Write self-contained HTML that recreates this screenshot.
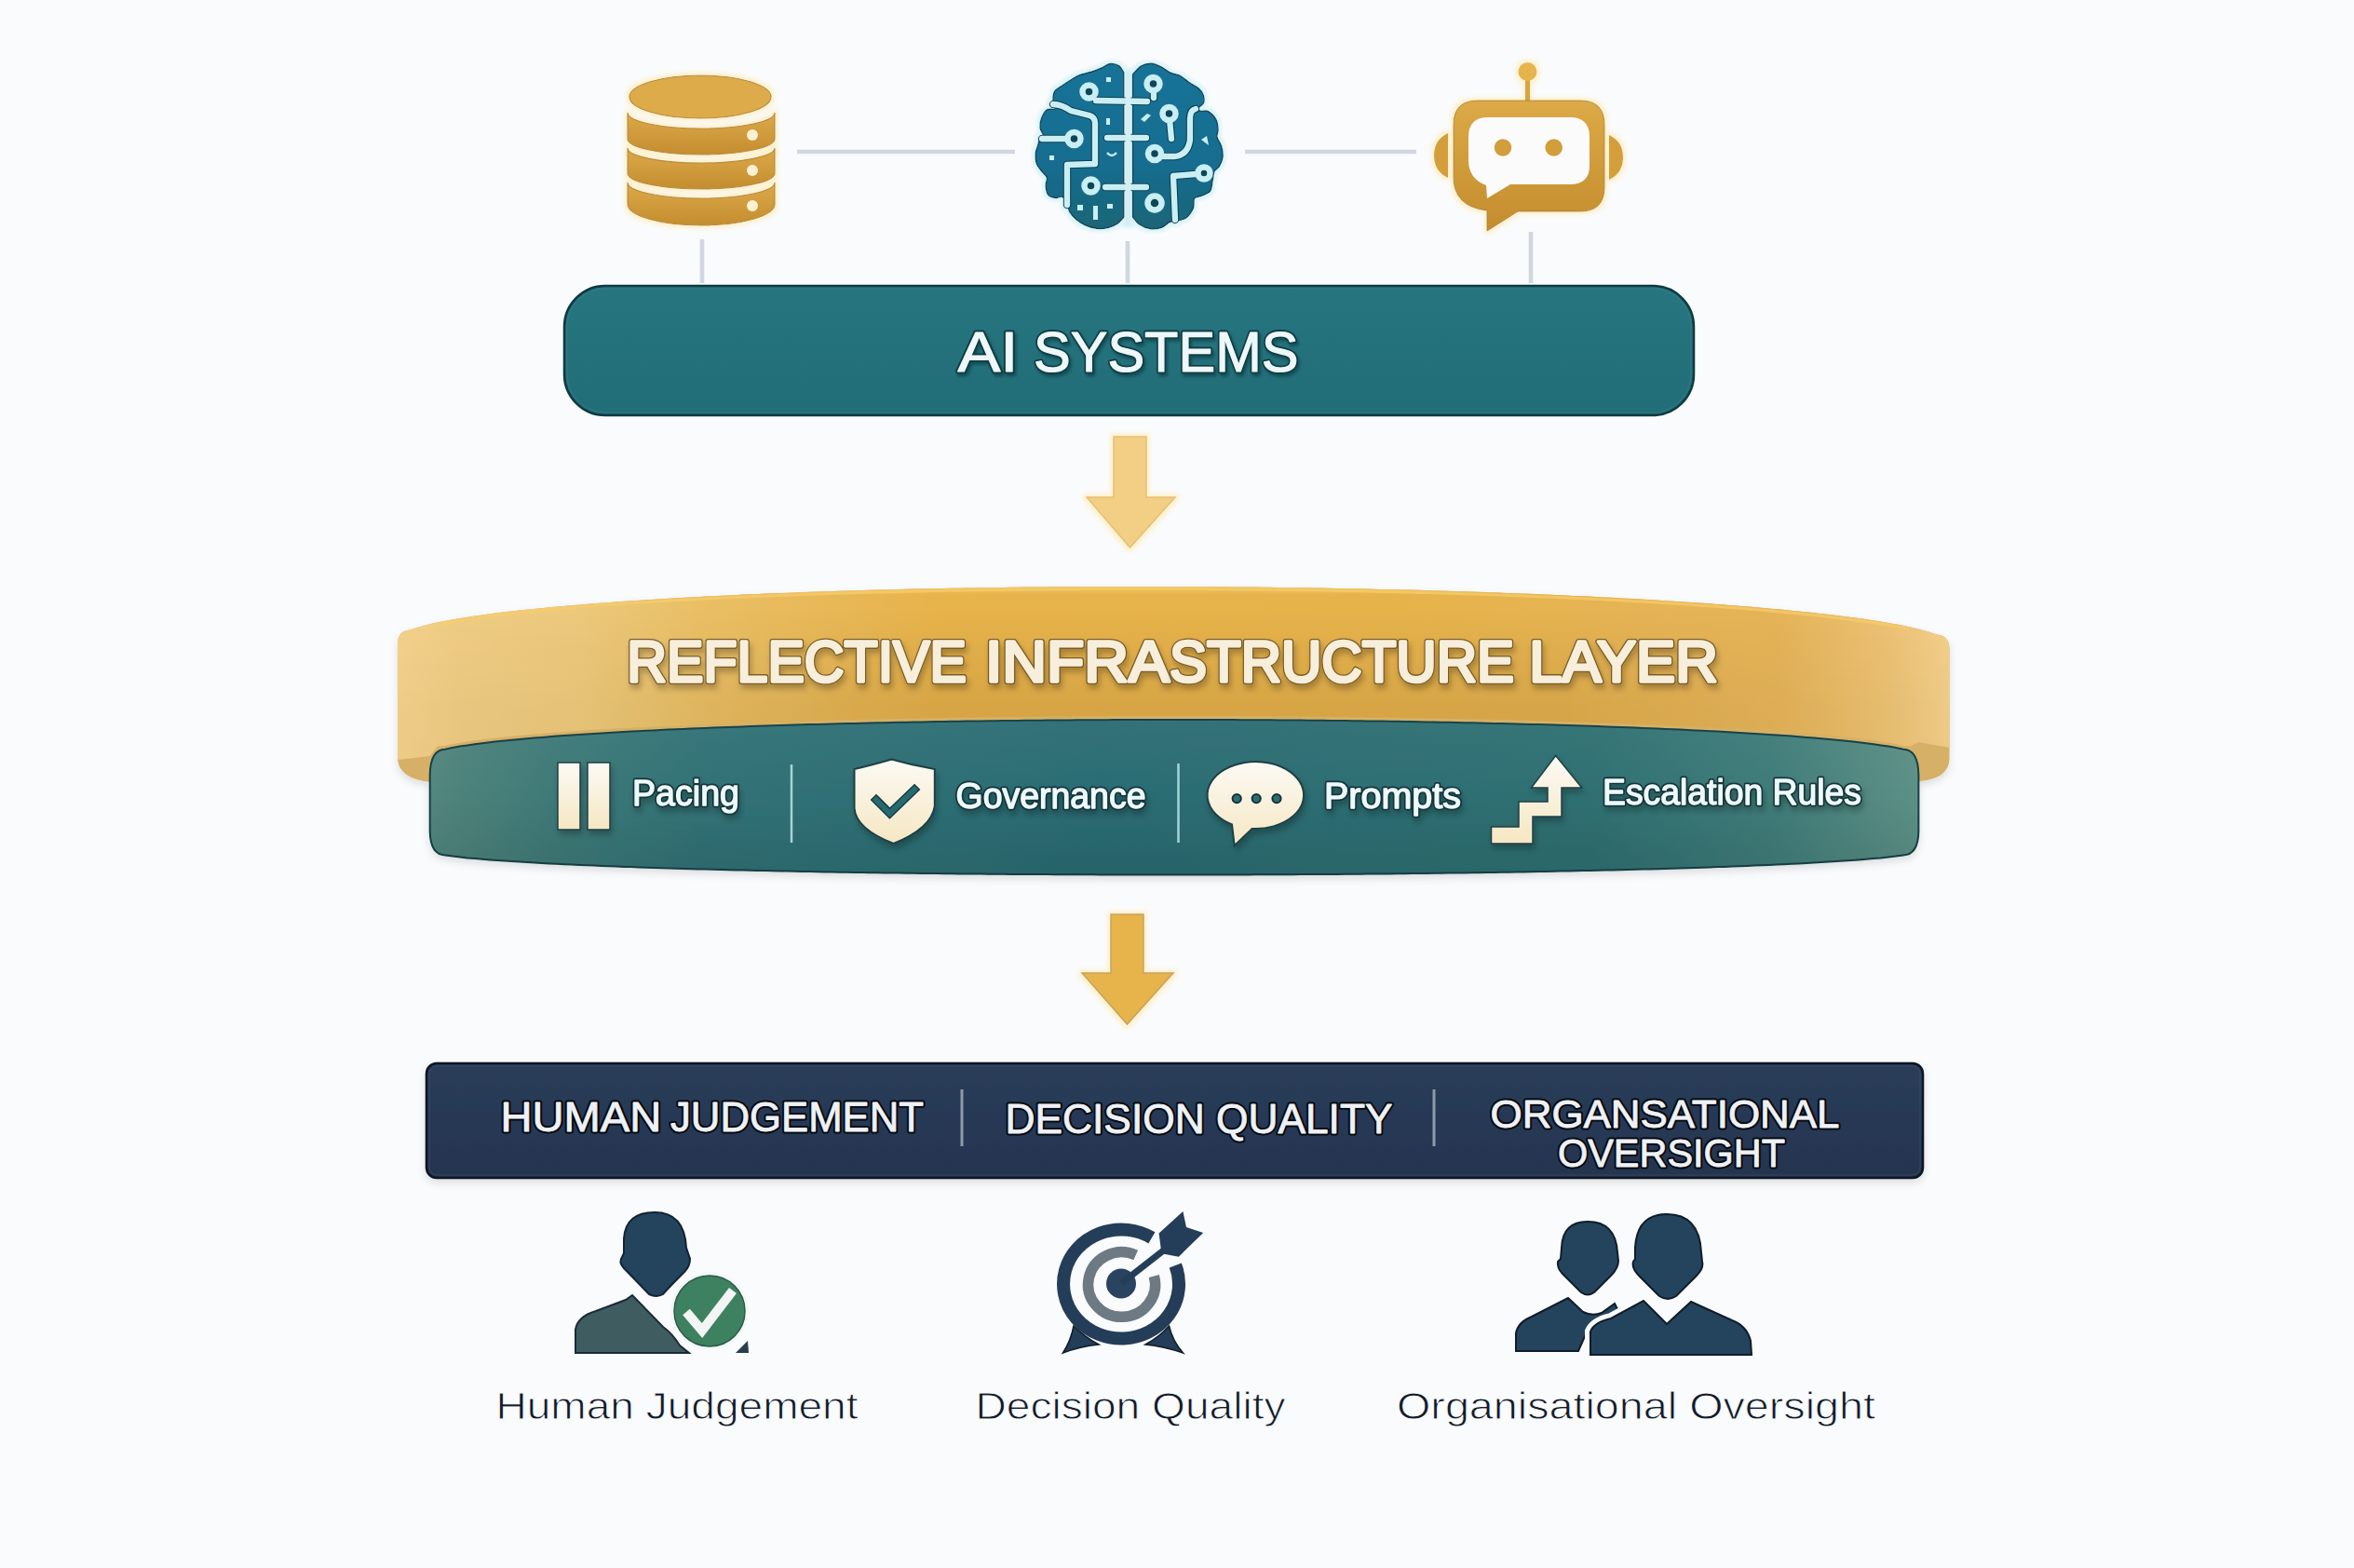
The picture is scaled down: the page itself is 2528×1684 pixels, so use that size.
<!DOCTYPE html>
<html><head><meta charset="utf-8">
<style>
html,body{margin:0;padding:0;background:#fafbfc;}
body{width:2528px;height:1684px;overflow:hidden;position:relative;font-family:"Liberation Sans",sans-serif;}
svg{position:absolute;left:0;top:0;}
</style></head><body>
<svg width="2528" height="1684" viewBox="0 0 2528 1684">
<defs>
  <linearGradient id="dbband" x1="0" y1="0" x2="0" y2="1">
    <stop offset="0" stop-color="#dcaa4a"/><stop offset="1" stop-color="#c48d2f"/>
  </linearGradient>
  <linearGradient id="braing" x1="0" y1="0" x2="0" y2="1">
    <stop offset="0" stop-color="#167398"/><stop offset="0.6" stop-color="#156d90"/><stop offset="1" stop-color="#1b6577"/>
  </linearGradient>
  <linearGradient id="aibox" x1="0" y1="0" x2="0" y2="1">
    <stop offset="0" stop-color="#26757f"/><stop offset="1" stop-color="#216d78"/>
  </linearGradient>
  <linearGradient id="navy" x1="0" y1="0" x2="0" y2="1">
    <stop offset="0" stop-color="#2a3d59"/><stop offset="1" stop-color="#24344f"/>
  </linearGradient>
  <linearGradient id="robot" x1="0" y1="0" x2="0" y2="1">
    <stop offset="0" stop-color="#dcaa47"/><stop offset="1" stop-color="#c48c2d"/>
  </linearGradient>
  <linearGradient id="goldface" gradientUnits="userSpaceOnUse" x1="427" y1="0" x2="2094" y2="0">
    <stop offset="0" stop-color="#f4d28c"/><stop offset="0.04" stop-color="#efcc84"/><stop offset="0.12" stop-color="#ebc87a"/>
    <stop offset="0.2" stop-color="#e9be64"/><stop offset="0.35" stop-color="#e7b34b"/><stop offset="0.65" stop-color="#e6b34c"/>
    <stop offset="0.89" stop-color="#e5b459"/><stop offset="0.96" stop-color="#ecc274"/><stop offset="1" stop-color="#f3d08b"/>
  </linearGradient>
  <linearGradient id="hmaskg" gradientUnits="userSpaceOnUse" x1="427" y1="0" x2="2094" y2="0">
    <stop offset="0" stop-color="#555"/><stop offset="0.12" stop-color="#666"/><stop offset="0.3" stop-color="#fff"/>
    <stop offset="0.75" stop-color="#fff"/><stop offset="0.89" stop-color="#777"/><stop offset="1" stop-color="#555"/>
  </linearGradient>
  <mask id="shademask" maskUnits="userSpaceOnUse" x="400" y="600" width="1720" height="260"><rect x="400" y="600" width="1720" height="260" fill="url(#hmaskg)"/></mask>
  <linearGradient id="goldshade" x1="0" y1="0" x2="0" y2="1">
    <stop offset="0" stop-color="#fff1b0" stop-opacity="0.3"/><stop offset="0.05" stop-color="#fff1b0" stop-opacity="0"/>
    <stop offset="0.13" stop-color="#3a1c00" stop-opacity="0"/><stop offset="0.7" stop-color="#3a1c00" stop-opacity="0.09"/>
    <stop offset="1" stop-color="#3a1c00" stop-opacity="0.1"/>
  </linearGradient>
  <linearGradient id="tealband" gradientUnits="userSpaceOnUse" x1="461" y1="0" x2="2061" y2="0">
    <stop offset="0" stop-color="#52877f"/><stop offset="0.023" stop-color="#4c827a"/><stop offset="0.08" stop-color="#3f7a78"/>
    <stop offset="0.18" stop-color="#317276"/><stop offset="0.45" stop-color="#2a6c73"/><stop offset="0.78" stop-color="#2f7072"/>
    <stop offset="0.9" stop-color="#3f7c79"/><stop offset="0.98" stop-color="#578c83"/><stop offset="1" stop-color="#5c9187"/>
  </linearGradient>
  <linearGradient id="tealshade" x1="0" y1="0" x2="0" y2="1">
    <stop offset="0" stop-color="#fff" stop-opacity="0.04"/><stop offset="0.1" stop-color="#fff" stop-opacity="0.03"/>
    <stop offset="0.5" stop-color="#fff" stop-opacity="0"/><stop offset="0.5" stop-color="#000" stop-opacity="0"/>
    <stop offset="0.87" stop-color="#000" stop-opacity="0.07"/><stop offset="1" stop-color="#000" stop-opacity="0.08"/>
  </linearGradient>
  <linearGradient id="cream" x1="0" y1="0" x2="0" y2="1">
    <stop offset="0" stop-color="#fbfaf4"/><stop offset="1" stop-color="#f6e7c3"/>
  </linearGradient>
  <filter id="glow" x="-20%" y="-20%" width="140%" height="140%">
    <feMorphology in="SourceAlpha" operator="dilate" radius="3" result="d"/>
    <feGaussianBlur in="d" stdDeviation="2" result="b"/>
    <feFlood flood-color="#fdf1cf"/><feComposite in2="b" operator="in" result="g"/>
    <feMerge><feMergeNode in="g"/><feMergeNode in="SourceGraphic"/></feMerge>
  </filter>
  <filter id="glowc" x="-20%" y="-20%" width="140%" height="140%">
    <feMorphology in="SourceAlpha" operator="dilate" radius="2.5" result="d"/>
    <feGaussianBlur in="d" stdDeviation="1.5" result="b"/>
    <feFlood flood-color="#dcf4f8"/><feComposite in2="b" operator="in" result="g"/>
    <feMerge><feMergeNode in="g"/><feMergeNode in="SourceGraphic"/></feMerge>
  </filter>
  <filter id="tshadow" x="-5%" y="-20%" width="110%" height="150%">
    <feGaussianBlur in="SourceAlpha" stdDeviation="3"/>
    <feOffset dx="2" dy="5" result="o"/>
    <feFlood flood-color="#000" flood-opacity="0.25"/><feComposite in2="o" operator="in" result="s"/>
    <feMerge><feMergeNode in="s"/><feMergeNode in="SourceGraphic"/></feMerge>
  </filter>
  <filter id="tshadow2" x="-5%" y="-20%" width="110%" height="150%">
    <feGaussianBlur in="SourceAlpha" stdDeviation="1.5"/>
    <feOffset dx="2" dy="3" result="o"/>
    <feFlood flood-color="#062a30" flood-opacity="0.45"/><feComposite in2="o" operator="in" result="s"/>
    <feMerge><feMergeNode in="s"/><feMergeNode in="SourceGraphic"/></feMerge>
  </filter>
  <filter id="soft" x="-10%" y="-10%" width="120%" height="130%">
    <feGaussianBlur in="SourceAlpha" stdDeviation="4"/>
    <feOffset dx="0" dy="4" result="o"/>
    <feFlood flood-color="#000" flood-opacity="0.12"/><feComposite in2="o" operator="in" result="s"/>
    <feMerge><feMergeNode in="s"/><feMergeNode in="SourceGraphic"/></feMerge>
  </filter>
</defs>

<!-- connectors -->
<g stroke="#d0d7e0" stroke-width="4.6" stroke-linecap="butt">
  <line x1="856" y1="163" x2="1090" y2="163"/>
  <line x1="1337" y1="163" x2="1521" y2="163"/>
  <line x1="754" y1="257" x2="754" y2="304"/>
  <line x1="1211" y1="259" x2="1211" y2="304"/>
  <line x1="1644" y1="249" x2="1644" y2="304"/>
</g>

<!-- database -->
<g filter="url(#glow)">
  <path d="M674,196 A79,17 0 0 0 832,196 L832,219 A79,23 0 0 1 674,219 Z" fill="url(#dbband)" stroke="#b98a35" stroke-width="1.2"/>
  <path d="M674,159 A79,16 0 0 0 832,159 L832,186 A79,17 0 0 1 674,186 Z" fill="url(#dbband)" stroke="#b98a35" stroke-width="1.2"/>
  <path d="M674,121 A79,17 0 0 0 832,121 L832,149 A79,17 0 0 1 674,149 Z" fill="url(#dbband)" stroke="#b98a35" stroke-width="1.2"/>
  <ellipse cx="752" cy="104" rx="76" ry="23" fill="#ddab4a" stroke="#b98a35" stroke-width="1.2"/>
  <g fill="#fcf1d2"><circle cx="808" cy="145" r="6"/><circle cx="808" cy="183" r="6"/><circle cx="808" cy="221" r="6"/></g>
</g>

<!-- brain -->
<g filter="url(#glowc)">
  <path d="M1206.8,78.0 C1206.0,76.8 1204.3,72.5 1201.9,70.9 C1199.5,69.3 1195.4,68.2 1192.2,68.6 C1189.0,69.0 1185.7,71.9 1182.5,73.3 C1179.3,74.7 1176.6,75.8 1172.8,77.0 C1169.0,78.2 1163.1,79.2 1159.5,80.6 C1155.9,82.0 1154.0,83.6 1151.0,85.4 C1148.0,87.2 1144.3,89.5 1141.3,91.5 C1138.3,93.5 1134.6,95.4 1132.9,97.6 C1131.2,99.8 1131.2,102.6 1131.0,104.8 C1130.8,107.0 1131.3,109.0 1131.6,111.0 C1131.9,113.0 1134.3,115.8 1133.0,117.0 C1131.7,118.2 1126.5,116.2 1124.0,118.0 C1121.5,119.8 1119.5,124.5 1118.3,127.8 C1117.1,131.1 1116.8,134.6 1117.1,137.5 C1117.4,140.4 1120.3,142.9 1120.2,145.0 C1120.1,147.1 1117.5,148.0 1116.5,150.0 C1115.5,152.0 1115.2,154.5 1114.5,156.9 C1113.8,159.3 1112.5,161.0 1112.3,164.2 C1112.1,167.4 1112.3,172.9 1113.5,176.3 C1114.7,179.7 1117.7,182.4 1119.5,184.8 C1121.3,187.2 1123.8,188.4 1124.4,190.8 C1125.0,193.2 1123.0,196.3 1123.2,199.3 C1123.4,202.3 1123.8,206.8 1125.6,209.0 C1127.4,211.2 1131.6,212.3 1134.0,212.6 C1136.4,212.9 1138.1,210.2 1140.1,211.0 C1142.1,211.8 1144.8,214.8 1146.2,217.5 C1147.6,220.2 1147.0,224.2 1148.6,227.2 C1150.2,230.2 1153.1,233.3 1155.9,235.7 C1158.7,238.1 1162.0,240.1 1165.6,241.7 C1169.2,243.3 1173.7,244.8 1177.7,245.3 C1181.7,245.8 1186.2,245.3 1189.8,244.5 C1193.4,243.7 1196.7,242.4 1199.5,240.5 C1202.3,238.6 1205.6,234.4 1206.8,233.2 L1206.8,160 Z" fill="url(#braing)" stroke="#0f4a5e" stroke-width="1.5"/>
  <path d="M1216.5,80.0 C1218.0,78.5 1222.3,72.9 1225.6,70.9 C1228.9,68.9 1232.9,68.0 1236.5,68.2 C1240.1,68.4 1244.0,70.4 1247.4,72.1 C1250.8,73.8 1253.7,76.6 1257.1,78.2 C1260.5,79.8 1264.6,80.0 1268.0,81.8 C1271.4,83.6 1274.5,86.9 1277.7,89.1 C1280.9,91.3 1285.0,92.9 1287.4,95.1 C1289.8,97.3 1291.5,99.8 1292.3,102.4 C1293.1,105.1 1293.3,108.7 1292.3,111.0 C1291.2,113.3 1286.4,115.1 1286.0,116.5 C1285.6,117.9 1288.2,118.9 1290.0,119.4 C1291.8,119.9 1294.5,118.0 1297.1,119.4 C1299.7,120.8 1303.8,124.7 1305.6,127.9 C1307.4,131.1 1307.8,135.6 1308.0,138.8 C1308.2,142.0 1306.4,144.3 1307.0,147.3 C1307.6,150.3 1310.6,153.4 1311.6,157.0 C1312.6,160.6 1313.4,165.4 1313.0,169.0 C1312.6,172.6 1310.7,176.3 1309.2,178.8 C1307.7,181.3 1305.2,181.4 1304.0,184.0 C1302.8,186.6 1302.8,190.9 1302.0,194.5 C1301.2,198.1 1301.5,202.8 1299.5,205.4 C1297.5,208.0 1292.8,209.0 1290.0,210.3 C1287.2,211.6 1284.0,210.8 1282.6,213.0 C1281.1,215.2 1282.9,220.0 1281.3,223.6 C1279.7,227.2 1276.0,232.3 1273.0,234.5 C1270.0,236.7 1265.8,236.3 1263.0,237.0 C1260.2,237.7 1258.6,237.3 1256.0,238.5 C1253.4,239.7 1250.9,243.0 1247.4,244.2 C1244.0,245.4 1239.3,246.2 1235.3,245.6 C1231.3,245.0 1226.3,242.7 1223.2,240.6 C1220.1,238.5 1217.6,234.3 1216.5,233.0 L1216.5,160 Z" fill="url(#braing)" stroke="#0f4a5e" stroke-width="1.5"/>
  <g fill="none" stroke-linecap="round" stroke-linejoin="round" stroke="#0e4252" stroke-width="8.5">
<path d="M1177,108 L1232,109"/>
<path d="M1189,148 L1231,148"/>
<path d="M1187,201 L1231,201"/>
<path d="M1131,112 Q1140,112 1150,119 L1170,124 Q1176,126 1176,132 L1176,176 L1146,177 L1146,220"/>
<path d="M1119,149 L1145,149"/>
<path d="M1239,99 L1239,105"/>
<path d="M1256,128 L1258,149"/>
<path d="M1284,117 Q1278,118 1278,128 L1278,150 Q1276,166 1262,168 L1249,168"/>
<path d="M1284,187 L1260,189 L1262,236"/>
  </g>
  <g fill="none" stroke-linecap="round" stroke-linejoin="round" stroke="#c9eef4" stroke-width="6.3">
<path d="M1177,108 L1232,109"/>
<path d="M1189,148 L1231,148"/>
<path d="M1187,201 L1231,201"/>
<path d="M1131,112 Q1140,112 1150,119 L1170,124 Q1176,126 1176,132 L1176,176 L1146,177 L1146,220"/>
<path d="M1119,149 L1145,149"/>
<path d="M1239,99 L1239,105"/>
<path d="M1256,128 L1258,149"/>
<path d="M1284,117 Q1278,118 1278,128 L1278,150 Q1276,166 1262,168 L1249,168"/>
<path d="M1284,187 L1260,189 L1262,236"/>
  </g>
  <g fill="#0f4656" stroke="#c9eef4" stroke-width="6.5">
    <circle cx="1169.5" cy="98.5" r="7"/>
    <circle cx="1153.5" cy="149" r="7"/>
    <circle cx="1171.5" cy="199.5" r="7"/>
    <circle cx="1238.5" cy="90" r="7"/>
    <circle cx="1255.5" cy="122" r="7"/>
    <circle cx="1240" cy="165" r="7"/>
    <circle cx="1293" cy="186" r="6.5"/>
    <circle cx="1240" cy="218" r="7.5"/>
  </g>
  <g fill="#c9eef4">
    <rect x="1188" y="83" width="5" height="5"/>
    <rect x="1127" y="167" width="5" height="5"/>
    <rect x="1174" y="221" width="5" height="15"/>
    <rect x="1189" y="219" width="6" height="5"/>
    <rect x="1157" y="220" width="6" height="6"/>
    <path d="M1225,128 L1232,122 L1236,124 L1229,131Z"/>
    <path d="M1290,150 L1296,146 L1298,156Z"/>
    <path d="M1189,164 Q1194,170 1199,164" fill="none" stroke="#c9eef4" stroke-width="2.5"/>
    <rect x="1188" y="127" width="4" height="7"/>
  </g>
  <rect x="1208.5" y="76" width="6" height="166" fill="#d3eff4"/>
</g>

<!-- robot -->
<g filter="url(#glow)">
  <rect x="1638" y="83" width="5" height="27" fill="#d7a441"/>
  <circle cx="1640.5" cy="77" r="10" fill="#e6b44b"/>
  <path d="M1555,143 Q1540,150 1540,167 Q1540,184 1555,191 Z" fill="#d49e3a"/>
  <path d="M1728,145 Q1743,152 1743,169 Q1743,186 1728,193 Z" fill="#d49e3a"/>
  <path d="M1587,108 L1697,108 Q1723,108 1723,134 L1723,201 Q1723,227 1697,227 L1630,227 L1597,248 L1597,226 Q1561,222 1561,190 L1561,134 Q1561,108 1587,108 Z" fill="url(#robot)" stroke="#b48432" stroke-width="1"/>
  <path d="M1598,126 L1686,126 Q1707,126 1707,147 L1707,178 Q1707,198 1686,198 L1622,198 L1597,213 L1596,199 Q1577,192 1577,172 L1577,147 Q1577,126 1598,126 Z" fill="#fbfbfc"/>
  <circle cx="1614" cy="158.5" r="9.3" fill="#d29d3a"/>
  <circle cx="1668.7" cy="158.5" r="9.3" fill="#d29d3a"/>
</g>

<!-- AI systems box -->
<rect x="606" y="307" width="1213" height="139" rx="44" fill="url(#aibox)" stroke="#0f3a41" stroke-width="2.5"/>
<rect x="609" y="310" width="1207" height="133" rx="41" fill="none" stroke="#3d8088" stroke-width="1" opacity="0.6"/>
<g filter="url(#tshadow2)"><text x="1028.5" y="399" font-family="Liberation Sans" font-weight="normal" font-size="62" textLength="65" lengthAdjust="spacingAndGlyphs" fill="#113c43" stroke="#113c43" stroke-width="4.80" stroke-linejoin="round">AI</text><text x="1028.5" y="399" font-family="Liberation Sans" font-weight="normal" font-size="62" textLength="65" lengthAdjust="spacingAndGlyphs" fill="#eef8fa" stroke="#eef8fa" stroke-width="1.20" stroke-linejoin="round">AI</text></g><g filter="url(#tshadow2)"><text x="1110" y="399" font-family="Liberation Sans" font-weight="normal" font-size="62" textLength="284.5" lengthAdjust="spacingAndGlyphs" fill="#113c43" stroke="#113c43" stroke-width="4.80" stroke-linejoin="round">SYSTEMS</text><text x="1110" y="399" font-family="Liberation Sans" font-weight="normal" font-size="62" textLength="284.5" lengthAdjust="spacingAndGlyphs" fill="#eef8fa" stroke="#eef8fa" stroke-width="1.20" stroke-linejoin="round">SYSTEMS</text></g>

<!-- arrow 1 -->
<path d="M1196,469 L1231,469 L1231,534 L1262,534 L1213.5,588 L1167,534 L1196,534 Z" fill="#f2cf84" stroke="#e6c070" stroke-width="1.5" filter="url(#glow)"/>

<!-- ring -->
<g filter="url(#soft)">
<path d="M427.0,700 L427.0,690 Q428.0,677.6 440.0,676.6 L440.0,676.6 L448.0,673.9 L455.9,671.7 L463.9,669.7 L471.8,668.0 L479.8,666.5 L487.8,665.0 L495.7,663.7 L503.7,662.4 L511.7,661.3 L519.6,660.2 L527.6,659.1 L535.5,658.1 L543.5,657.1 L551.5,656.2 L559.4,655.3 L567.4,654.5 L575.3,653.7 L583.3,652.9 L591.3,652.1 L599.2,651.4 L607.2,650.7 L615.1,650.0 L623.1,649.4 L631.1,648.7 L639.0,648.1 L647.0,647.5 L655.0,646.9 L662.9,646.3 L670.9,645.8 L678.8,645.2 L686.8,644.7 L694.8,644.2 L702.7,643.7 L710.7,643.2 L718.6,642.7 L726.6,642.3 L734.6,641.8 L742.5,641.4 L750.5,641.0 L758.4,640.6 L766.4,640.2 L774.4,639.8 L782.3,639.4 L790.3,639.0 L798.3,638.6 L806.2,638.3 L814.2,638.0 L822.1,637.6 L830.1,637.3 L838.1,637.0 L846.0,636.7 L854.0,636.4 L861.9,636.1 L869.9,635.8 L877.9,635.5 L885.8,635.3 L893.8,635.0 L901.7,634.7 L909.7,634.5 L917.7,634.3 L925.6,634.0 L933.6,633.8 L941.6,633.6 L949.5,633.4 L957.5,633.2 L965.4,633.0 L973.4,632.8 L981.4,632.6 L989.3,632.4 L997.3,632.3 L1005.2,632.1 L1013.2,631.9 L1021.2,631.8 L1029.1,631.7 L1037.1,631.5 L1045.0,631.4 L1053.0,631.3 L1061.0,631.1 L1068.9,631.0 L1076.9,630.9 L1084.9,630.8 L1092.8,630.7 L1100.8,630.6 L1108.7,630.5 L1116.7,630.5 L1124.7,630.4 L1132.6,630.3 L1140.6,630.3 L1148.5,630.2 L1156.5,630.2 L1164.5,630.1 L1172.4,630.1 L1180.4,630.0 L1188.3,630.0 L1196.3,630.0 L1204.3,630.0 L1212.2,630.0 L1220.2,629.9 L1228.2,629.9 L1236.1,630.0 L1244.1,630.0 L1252.0,630.0 L1260.0,630.0 L1268.0,630.0 L1275.9,630.1 L1283.9,630.1 L1291.8,630.1 L1299.8,630.2 L1307.8,630.2 L1315.7,630.3 L1323.7,630.4 L1331.7,630.4 L1339.6,630.5 L1347.6,630.6 L1355.5,630.7 L1363.5,630.8 L1371.5,630.9 L1379.4,631.0 L1387.4,631.1 L1395.3,631.2 L1403.3,631.3 L1411.3,631.4 L1419.2,631.6 L1427.2,631.7 L1435.1,631.9 L1443.1,632.0 L1451.1,632.2 L1459.0,632.3 L1467.0,632.5 L1475.0,632.7 L1482.9,632.9 L1490.9,633.0 L1498.8,633.2 L1506.8,633.4 L1514.8,633.6 L1522.7,633.8 L1530.7,634.1 L1538.6,634.3 L1546.6,634.5 L1554.6,634.8 L1562.5,635.0 L1570.5,635.2 L1578.4,635.5 L1586.4,635.8 L1594.4,636.0 L1602.3,636.3 L1610.3,636.6 L1618.3,636.9 L1626.2,637.2 L1634.2,637.5 L1642.1,637.8 L1650.1,638.1 L1658.1,638.5 L1666.0,638.8 L1674.0,639.2 L1681.9,639.5 L1689.9,639.9 L1697.9,640.2 L1705.8,640.6 L1713.8,641.0 L1721.7,641.4 L1729.7,641.8 L1737.7,642.2 L1745.6,642.7 L1753.6,643.1 L1761.6,643.6 L1769.5,644.0 L1777.5,644.5 L1785.4,645.0 L1793.4,645.5 L1801.4,646.0 L1809.3,646.5 L1817.3,647.0 L1825.2,647.6 L1833.2,648.1 L1841.2,648.7 L1849.1,649.3 L1857.1,649.9 L1865.0,650.5 L1873.0,651.2 L1881.0,651.8 L1888.9,652.5 L1896.9,653.2 L1904.9,653.9 L1912.8,654.6 L1920.8,655.4 L1928.7,656.2 L1936.7,657.0 L1944.7,657.8 L1952.6,658.7 L1960.6,659.5 L1968.5,660.5 L1976.5,661.4 L1984.5,662.4 L1992.4,663.5 L2000.4,664.6 L2008.3,665.8 L2016.3,667.0 L2024.3,668.3 L2032.2,669.7 L2040.2,671.1 L2048.2,672.7 L2056.1,674.5 L2064.1,676.5 L2072.0,678.8 L2080.0,681.5 Q2092.5,682.5 2093.5,695 L2093.5,815 Q2093.0,836 2062,839 L462,840 Q428.0,836 427.0,815 Z" fill="#d5b066"/>
<path d="M427.0,700 L427.0,690 Q428.0,677.6 440.0,676.6 L440.0,676.6 L448.0,673.9 L455.9,671.7 L463.9,669.7 L471.8,668.0 L479.8,666.5 L487.8,665.0 L495.7,663.7 L503.7,662.4 L511.7,661.3 L519.6,660.2 L527.6,659.1 L535.5,658.1 L543.5,657.1 L551.5,656.2 L559.4,655.3 L567.4,654.5 L575.3,653.7 L583.3,652.9 L591.3,652.1 L599.2,651.4 L607.2,650.7 L615.1,650.0 L623.1,649.4 L631.1,648.7 L639.0,648.1 L647.0,647.5 L655.0,646.9 L662.9,646.3 L670.9,645.8 L678.8,645.2 L686.8,644.7 L694.8,644.2 L702.7,643.7 L710.7,643.2 L718.6,642.7 L726.6,642.3 L734.6,641.8 L742.5,641.4 L750.5,641.0 L758.4,640.6 L766.4,640.2 L774.4,639.8 L782.3,639.4 L790.3,639.0 L798.3,638.6 L806.2,638.3 L814.2,638.0 L822.1,637.6 L830.1,637.3 L838.1,637.0 L846.0,636.7 L854.0,636.4 L861.9,636.1 L869.9,635.8 L877.9,635.5 L885.8,635.3 L893.8,635.0 L901.7,634.7 L909.7,634.5 L917.7,634.3 L925.6,634.0 L933.6,633.8 L941.6,633.6 L949.5,633.4 L957.5,633.2 L965.4,633.0 L973.4,632.8 L981.4,632.6 L989.3,632.4 L997.3,632.3 L1005.2,632.1 L1013.2,631.9 L1021.2,631.8 L1029.1,631.7 L1037.1,631.5 L1045.0,631.4 L1053.0,631.3 L1061.0,631.1 L1068.9,631.0 L1076.9,630.9 L1084.9,630.8 L1092.8,630.7 L1100.8,630.6 L1108.7,630.5 L1116.7,630.5 L1124.7,630.4 L1132.6,630.3 L1140.6,630.3 L1148.5,630.2 L1156.5,630.2 L1164.5,630.1 L1172.4,630.1 L1180.4,630.0 L1188.3,630.0 L1196.3,630.0 L1204.3,630.0 L1212.2,630.0 L1220.2,629.9 L1228.2,629.9 L1236.1,630.0 L1244.1,630.0 L1252.0,630.0 L1260.0,630.0 L1268.0,630.0 L1275.9,630.1 L1283.9,630.1 L1291.8,630.1 L1299.8,630.2 L1307.8,630.2 L1315.7,630.3 L1323.7,630.4 L1331.7,630.4 L1339.6,630.5 L1347.6,630.6 L1355.5,630.7 L1363.5,630.8 L1371.5,630.9 L1379.4,631.0 L1387.4,631.1 L1395.3,631.2 L1403.3,631.3 L1411.3,631.4 L1419.2,631.6 L1427.2,631.7 L1435.1,631.9 L1443.1,632.0 L1451.1,632.2 L1459.0,632.3 L1467.0,632.5 L1475.0,632.7 L1482.9,632.9 L1490.9,633.0 L1498.8,633.2 L1506.8,633.4 L1514.8,633.6 L1522.7,633.8 L1530.7,634.1 L1538.6,634.3 L1546.6,634.5 L1554.6,634.8 L1562.5,635.0 L1570.5,635.2 L1578.4,635.5 L1586.4,635.8 L1594.4,636.0 L1602.3,636.3 L1610.3,636.6 L1618.3,636.9 L1626.2,637.2 L1634.2,637.5 L1642.1,637.8 L1650.1,638.1 L1658.1,638.5 L1666.0,638.8 L1674.0,639.2 L1681.9,639.5 L1689.9,639.9 L1697.9,640.2 L1705.8,640.6 L1713.8,641.0 L1721.7,641.4 L1729.7,641.8 L1737.7,642.2 L1745.6,642.7 L1753.6,643.1 L1761.6,643.6 L1769.5,644.0 L1777.5,644.5 L1785.4,645.0 L1793.4,645.5 L1801.4,646.0 L1809.3,646.5 L1817.3,647.0 L1825.2,647.6 L1833.2,648.1 L1841.2,648.7 L1849.1,649.3 L1857.1,649.9 L1865.0,650.5 L1873.0,651.2 L1881.0,651.8 L1888.9,652.5 L1896.9,653.2 L1904.9,653.9 L1912.8,654.6 L1920.8,655.4 L1928.7,656.2 L1936.7,657.0 L1944.7,657.8 L1952.6,658.7 L1960.6,659.5 L1968.5,660.5 L1976.5,661.4 L1984.5,662.4 L1992.4,663.5 L2000.4,664.6 L2008.3,665.8 L2016.3,667.0 L2024.3,668.3 L2032.2,669.7 L2040.2,671.1 L2048.2,672.7 L2056.1,674.5 L2064.1,676.5 L2072.0,678.8 L2080.0,681.5 Q2092.5,682.5 2093.5,695 L2093.5,803 L2060.4,797 L2052,801.3 L2046.0,801.3 L2038.0,799.5 L2030.1,798.0 L2022.1,796.7 L2014.1,795.5 L2006.2,794.4 L1998.2,793.5 L1990.2,792.5 L1982.2,791.7 L1974.3,790.9 L1966.3,790.1 L1958.3,789.4 L1950.4,788.7 L1942.4,788.0 L1934.4,787.4 L1926.5,786.8 L1918.5,786.2 L1910.5,785.6 L1902.5,785.1 L1894.6,784.6 L1886.6,784.1 L1878.6,783.6 L1870.7,783.1 L1862.7,782.6 L1854.7,782.2 L1846.8,781.8 L1838.8,781.3 L1830.8,780.9 L1822.9,780.5 L1814.9,780.1 L1806.9,779.8 L1798.9,779.4 L1791.0,779.0 L1783.0,778.7 L1775.0,778.4 L1767.1,778.0 L1759.1,777.7 L1751.1,777.4 L1743.2,777.1 L1735.2,776.8 L1727.2,776.5 L1719.2,776.2 L1711.3,775.9 L1703.3,775.7 L1695.3,775.4 L1687.4,775.2 L1679.4,774.9 L1671.4,774.7 L1663.5,774.4 L1655.5,774.2 L1647.5,774.0 L1639.6,773.8 L1631.6,773.6 L1623.6,773.3 L1615.6,773.1 L1607.7,773.0 L1599.7,772.8 L1591.7,772.6 L1583.8,772.4 L1575.8,772.2 L1567.8,772.1 L1559.9,771.9 L1551.9,771.7 L1543.9,771.6 L1535.9,771.4 L1528.0,771.3 L1520.0,771.2 L1512.0,771.0 L1504.1,770.9 L1496.1,770.8 L1488.1,770.6 L1480.2,770.5 L1472.2,770.4 L1464.2,770.3 L1456.3,770.2 L1448.3,770.1 L1440.3,770.0 L1432.3,769.9 L1424.4,769.8 L1416.4,769.8 L1408.4,769.7 L1400.5,769.6 L1392.5,769.5 L1384.5,769.5 L1376.6,769.4 L1368.6,769.4 L1360.6,769.3 L1352.6,769.3 L1344.7,769.2 L1336.7,769.2 L1328.7,769.1 L1320.8,769.1 L1312.8,769.1 L1304.8,769.1 L1296.9,769.0 L1288.9,769.0 L1280.9,769.0 L1273.0,769.0 L1265.0,769.0 L1257.0,769.0 L1249.0,769.0 L1241.1,769.0 L1233.1,769.0 L1225.1,769.0 L1217.2,769.1 L1209.2,769.1 L1201.2,769.1 L1193.3,769.1 L1185.3,769.2 L1177.3,769.2 L1169.4,769.3 L1161.4,769.3 L1153.4,769.4 L1145.4,769.4 L1137.5,769.5 L1129.5,769.5 L1121.5,769.6 L1113.6,769.7 L1105.6,769.8 L1097.6,769.8 L1089.7,769.9 L1081.7,770.0 L1073.7,770.1 L1065.7,770.2 L1057.8,770.3 L1049.8,770.4 L1041.8,770.5 L1033.9,770.6 L1025.9,770.8 L1017.9,770.9 L1010.0,771.0 L1002.0,771.2 L994.0,771.3 L986.1,771.4 L978.1,771.6 L970.1,771.7 L962.1,771.9 L954.2,772.1 L946.2,772.2 L938.2,772.4 L930.3,772.6 L922.3,772.8 L914.3,773.0 L906.4,773.1 L898.4,773.3 L890.4,773.6 L882.4,773.8 L874.5,774.0 L866.5,774.2 L858.5,774.4 L850.6,774.7 L842.6,774.9 L834.6,775.2 L826.7,775.4 L818.7,775.7 L810.7,775.9 L802.8,776.2 L794.8,776.5 L786.8,776.8 L778.8,777.1 L770.9,777.4 L762.9,777.7 L754.9,778.0 L747.0,778.4 L739.0,778.7 L731.0,779.0 L723.1,779.4 L715.1,779.8 L707.1,780.1 L699.1,780.5 L691.2,780.9 L683.2,781.3 L675.2,781.8 L667.3,782.2 L659.3,782.6 L651.3,783.1 L643.4,783.6 L635.4,784.1 L627.4,784.6 L619.5,785.1 L611.5,785.6 L603.5,786.2 L595.5,786.8 L587.6,787.4 L579.6,788.0 L571.6,788.7 L563.7,789.4 L555.7,790.1 L547.7,790.9 L539.8,791.7 L531.8,792.5 L523.8,793.5 L515.8,794.4 L507.9,795.5 L499.9,796.7 L491.9,798.0 L484.0,799.5 L476.0,801.3 L470,801.3 L461.7,812 L427.0,816 Z" fill="url(#goldface)"/>
<path d="M427.0,700 L427.0,690 Q428.0,677.6 440.0,676.6 L440.0,676.6 L448.0,673.9 L455.9,671.7 L463.9,669.7 L471.8,668.0 L479.8,666.5 L487.8,665.0 L495.7,663.7 L503.7,662.4 L511.7,661.3 L519.6,660.2 L527.6,659.1 L535.5,658.1 L543.5,657.1 L551.5,656.2 L559.4,655.3 L567.4,654.5 L575.3,653.7 L583.3,652.9 L591.3,652.1 L599.2,651.4 L607.2,650.7 L615.1,650.0 L623.1,649.4 L631.1,648.7 L639.0,648.1 L647.0,647.5 L655.0,646.9 L662.9,646.3 L670.9,645.8 L678.8,645.2 L686.8,644.7 L694.8,644.2 L702.7,643.7 L710.7,643.2 L718.6,642.7 L726.6,642.3 L734.6,641.8 L742.5,641.4 L750.5,641.0 L758.4,640.6 L766.4,640.2 L774.4,639.8 L782.3,639.4 L790.3,639.0 L798.3,638.6 L806.2,638.3 L814.2,638.0 L822.1,637.6 L830.1,637.3 L838.1,637.0 L846.0,636.7 L854.0,636.4 L861.9,636.1 L869.9,635.8 L877.9,635.5 L885.8,635.3 L893.8,635.0 L901.7,634.7 L909.7,634.5 L917.7,634.3 L925.6,634.0 L933.6,633.8 L941.6,633.6 L949.5,633.4 L957.5,633.2 L965.4,633.0 L973.4,632.8 L981.4,632.6 L989.3,632.4 L997.3,632.3 L1005.2,632.1 L1013.2,631.9 L1021.2,631.8 L1029.1,631.7 L1037.1,631.5 L1045.0,631.4 L1053.0,631.3 L1061.0,631.1 L1068.9,631.0 L1076.9,630.9 L1084.9,630.8 L1092.8,630.7 L1100.8,630.6 L1108.7,630.5 L1116.7,630.5 L1124.7,630.4 L1132.6,630.3 L1140.6,630.3 L1148.5,630.2 L1156.5,630.2 L1164.5,630.1 L1172.4,630.1 L1180.4,630.0 L1188.3,630.0 L1196.3,630.0 L1204.3,630.0 L1212.2,630.0 L1220.2,629.9 L1228.2,629.9 L1236.1,630.0 L1244.1,630.0 L1252.0,630.0 L1260.0,630.0 L1268.0,630.0 L1275.9,630.1 L1283.9,630.1 L1291.8,630.1 L1299.8,630.2 L1307.8,630.2 L1315.7,630.3 L1323.7,630.4 L1331.7,630.4 L1339.6,630.5 L1347.6,630.6 L1355.5,630.7 L1363.5,630.8 L1371.5,630.9 L1379.4,631.0 L1387.4,631.1 L1395.3,631.2 L1403.3,631.3 L1411.3,631.4 L1419.2,631.6 L1427.2,631.7 L1435.1,631.9 L1443.1,632.0 L1451.1,632.2 L1459.0,632.3 L1467.0,632.5 L1475.0,632.7 L1482.9,632.9 L1490.9,633.0 L1498.8,633.2 L1506.8,633.4 L1514.8,633.6 L1522.7,633.8 L1530.7,634.1 L1538.6,634.3 L1546.6,634.5 L1554.6,634.8 L1562.5,635.0 L1570.5,635.2 L1578.4,635.5 L1586.4,635.8 L1594.4,636.0 L1602.3,636.3 L1610.3,636.6 L1618.3,636.9 L1626.2,637.2 L1634.2,637.5 L1642.1,637.8 L1650.1,638.1 L1658.1,638.5 L1666.0,638.8 L1674.0,639.2 L1681.9,639.5 L1689.9,639.9 L1697.9,640.2 L1705.8,640.6 L1713.8,641.0 L1721.7,641.4 L1729.7,641.8 L1737.7,642.2 L1745.6,642.7 L1753.6,643.1 L1761.6,643.6 L1769.5,644.0 L1777.5,644.5 L1785.4,645.0 L1793.4,645.5 L1801.4,646.0 L1809.3,646.5 L1817.3,647.0 L1825.2,647.6 L1833.2,648.1 L1841.2,648.7 L1849.1,649.3 L1857.1,649.9 L1865.0,650.5 L1873.0,651.2 L1881.0,651.8 L1888.9,652.5 L1896.9,653.2 L1904.9,653.9 L1912.8,654.6 L1920.8,655.4 L1928.7,656.2 L1936.7,657.0 L1944.7,657.8 L1952.6,658.7 L1960.6,659.5 L1968.5,660.5 L1976.5,661.4 L1984.5,662.4 L1992.4,663.5 L2000.4,664.6 L2008.3,665.8 L2016.3,667.0 L2024.3,668.3 L2032.2,669.7 L2040.2,671.1 L2048.2,672.7 L2056.1,674.5 L2064.1,676.5 L2072.0,678.8 L2080.0,681.5 Q2092.5,682.5 2093.5,695 L2093.5,803 L2060.4,797 L2052,801.3 L2046.0,801.3 L2038.0,799.5 L2030.1,798.0 L2022.1,796.7 L2014.1,795.5 L2006.2,794.4 L1998.2,793.5 L1990.2,792.5 L1982.2,791.7 L1974.3,790.9 L1966.3,790.1 L1958.3,789.4 L1950.4,788.7 L1942.4,788.0 L1934.4,787.4 L1926.5,786.8 L1918.5,786.2 L1910.5,785.6 L1902.5,785.1 L1894.6,784.6 L1886.6,784.1 L1878.6,783.6 L1870.7,783.1 L1862.7,782.6 L1854.7,782.2 L1846.8,781.8 L1838.8,781.3 L1830.8,780.9 L1822.9,780.5 L1814.9,780.1 L1806.9,779.8 L1798.9,779.4 L1791.0,779.0 L1783.0,778.7 L1775.0,778.4 L1767.1,778.0 L1759.1,777.7 L1751.1,777.4 L1743.2,777.1 L1735.2,776.8 L1727.2,776.5 L1719.2,776.2 L1711.3,775.9 L1703.3,775.7 L1695.3,775.4 L1687.4,775.2 L1679.4,774.9 L1671.4,774.7 L1663.5,774.4 L1655.5,774.2 L1647.5,774.0 L1639.6,773.8 L1631.6,773.6 L1623.6,773.3 L1615.6,773.1 L1607.7,773.0 L1599.7,772.8 L1591.7,772.6 L1583.8,772.4 L1575.8,772.2 L1567.8,772.1 L1559.9,771.9 L1551.9,771.7 L1543.9,771.6 L1535.9,771.4 L1528.0,771.3 L1520.0,771.2 L1512.0,771.0 L1504.1,770.9 L1496.1,770.8 L1488.1,770.6 L1480.2,770.5 L1472.2,770.4 L1464.2,770.3 L1456.3,770.2 L1448.3,770.1 L1440.3,770.0 L1432.3,769.9 L1424.4,769.8 L1416.4,769.8 L1408.4,769.7 L1400.5,769.6 L1392.5,769.5 L1384.5,769.5 L1376.6,769.4 L1368.6,769.4 L1360.6,769.3 L1352.6,769.3 L1344.7,769.2 L1336.7,769.2 L1328.7,769.1 L1320.8,769.1 L1312.8,769.1 L1304.8,769.1 L1296.9,769.0 L1288.9,769.0 L1280.9,769.0 L1273.0,769.0 L1265.0,769.0 L1257.0,769.0 L1249.0,769.0 L1241.1,769.0 L1233.1,769.0 L1225.1,769.0 L1217.2,769.1 L1209.2,769.1 L1201.2,769.1 L1193.3,769.1 L1185.3,769.2 L1177.3,769.2 L1169.4,769.3 L1161.4,769.3 L1153.4,769.4 L1145.4,769.4 L1137.5,769.5 L1129.5,769.5 L1121.5,769.6 L1113.6,769.7 L1105.6,769.8 L1097.6,769.8 L1089.7,769.9 L1081.7,770.0 L1073.7,770.1 L1065.7,770.2 L1057.8,770.3 L1049.8,770.4 L1041.8,770.5 L1033.9,770.6 L1025.9,770.8 L1017.9,770.9 L1010.0,771.0 L1002.0,771.2 L994.0,771.3 L986.1,771.4 L978.1,771.6 L970.1,771.7 L962.1,771.9 L954.2,772.1 L946.2,772.2 L938.2,772.4 L930.3,772.6 L922.3,772.8 L914.3,773.0 L906.4,773.1 L898.4,773.3 L890.4,773.6 L882.4,773.8 L874.5,774.0 L866.5,774.2 L858.5,774.4 L850.6,774.7 L842.6,774.9 L834.6,775.2 L826.7,775.4 L818.7,775.7 L810.7,775.9 L802.8,776.2 L794.8,776.5 L786.8,776.8 L778.8,777.1 L770.9,777.4 L762.9,777.7 L754.9,778.0 L747.0,778.4 L739.0,778.7 L731.0,779.0 L723.1,779.4 L715.1,779.8 L707.1,780.1 L699.1,780.5 L691.2,780.9 L683.2,781.3 L675.2,781.8 L667.3,782.2 L659.3,782.6 L651.3,783.1 L643.4,783.6 L635.4,784.1 L627.4,784.6 L619.5,785.1 L611.5,785.6 L603.5,786.2 L595.5,786.8 L587.6,787.4 L579.6,788.0 L571.6,788.7 L563.7,789.4 L555.7,790.1 L547.7,790.9 L539.8,791.7 L531.8,792.5 L523.8,793.5 L515.8,794.4 L507.9,795.5 L499.9,796.7 L491.9,798.0 L484.0,799.5 L476.0,801.3 L470,801.3 L461.7,812 L427.0,816 Z" fill="url(#goldshade)" mask="url(#shademask)"/>
<path d="M470.0,670.9 L478.0,669.3 L486.0,667.8 L493.9,666.5 L501.9,665.2 L509.9,664.0 L517.9,662.9 L525.9,661.8 L533.8,660.8 L541.8,659.8 L549.8,658.9 L557.8,658.0 L565.8,657.2 L573.7,656.3 L581.7,655.6 L589.7,654.8 L597.7,654.0 L605.7,653.3 L613.6,652.6 L621.6,652.0 L629.6,651.3 L637.6,650.7 L645.6,650.1 L653.5,649.5 L661.5,648.9 L669.5,648.4 L677.5,647.8 L685.5,647.3 L693.4,646.8 L701.4,646.3 L709.4,645.8 L717.4,645.3 L725.4,644.8 L733.3,644.4 L741.3,644.0 L749.3,643.5 L757.3,643.1 L765.3,642.7 L773.2,642.3 L781.2,641.9 L789.2,641.6 L797.2,641.2 L805.2,640.8 L813.1,640.5 L821.1,640.2 L829.1,639.8 L837.1,639.5 L845.1,639.2 L853.0,638.9 L861.0,638.6 L869.0,638.3 L877.0,638.1 L884.9,637.8 L892.9,637.5 L900.9,637.3 L908.9,637.0 L916.9,636.8 L924.8,636.6 L932.8,636.3 L940.8,636.1 L948.8,635.9 L956.8,635.7 L964.7,635.5 L972.7,635.3 L980.7,635.1 L988.7,634.9 L996.7,634.8 L1004.6,634.6 L1012.6,634.5 L1020.6,634.3 L1028.6,634.2 L1036.6,634.0 L1044.5,633.9 L1052.5,633.8 L1060.5,633.6 L1068.5,633.5 L1076.5,633.4 L1084.4,633.3 L1092.4,633.2 L1100.4,633.1 L1108.4,633.0 L1116.4,633.0 L1124.3,632.9 L1132.3,632.8 L1140.3,632.8 L1148.3,632.7 L1156.3,632.7 L1164.2,632.6 L1172.2,632.6 L1180.2,632.5 L1188.2,632.5 L1196.2,632.5 L1204.1,632.5 L1212.1,632.5 L1220.1,632.4 L1228.1,632.4 L1236.1,632.5 L1244.0,632.5 L1252.0,632.5 L1260.0,632.5 L1268.0,632.5 L1276.0,632.6 L1283.9,632.6 L1291.9,632.6 L1299.9,632.7 L1307.9,632.7 L1315.9,632.8 L1323.8,632.9 L1331.8,632.9 L1339.8,633.0 L1347.8,633.1 L1355.8,633.2 L1363.7,633.3 L1371.7,633.4 L1379.7,633.5 L1387.7,633.6 L1395.7,633.7 L1403.6,633.8 L1411.6,634.0 L1419.6,634.1 L1427.6,634.2 L1435.6,634.4 L1443.5,634.5 L1451.5,634.7 L1459.5,634.8 L1467.5,635.0 L1475.5,635.2 L1483.4,635.4 L1491.4,635.6 L1499.4,635.7 L1507.4,635.9 L1515.4,636.1 L1523.3,636.4 L1531.3,636.6 L1539.3,636.8 L1547.3,637.0 L1555.3,637.3 L1563.2,637.5 L1571.2,637.8 L1579.2,638.0 L1587.2,638.3 L1595.2,638.6 L1603.1,638.8 L1611.1,639.1 L1619.1,639.4 L1627.1,639.7 L1635.1,640.0 L1643.0,640.4 L1651.0,640.7 L1659.0,641.0 L1667.0,641.3 L1674.9,641.7 L1682.9,642.1 L1690.9,642.4 L1698.9,642.8 L1706.9,643.2 L1714.8,643.6 L1722.8,644.0 L1730.8,644.4 L1738.8,644.8 L1746.8,645.2 L1754.7,645.7 L1762.7,646.1 L1770.7,646.6 L1778.7,647.1 L1786.7,647.6 L1794.6,648.1 L1802.6,648.6 L1810.6,649.1 L1818.6,649.6 L1826.6,650.2 L1834.5,650.7 L1842.5,651.3 L1850.5,651.9 L1858.5,652.5 L1866.5,653.1 L1874.4,653.8 L1882.4,654.4 L1890.4,655.1 L1898.4,655.8 L1906.4,656.5 L1914.3,657.3 L1922.3,658.0 L1930.3,658.8 L1938.3,659.6 L1946.3,660.5 L1954.2,661.3 L1962.2,662.2 L1970.2,663.2 L1978.2,664.2 L1986.2,665.2 L1994.1,666.2 L2002.1,667.3 L2010.1,668.5 L2018.1,669.8 L2026.1,671.1 L2034.0,672.5 L2042.0,674.0 L2050.0,675.6" fill="none" stroke="#f7cc68" stroke-width="3" opacity="0.75"/>
<path d="M461.7,832 Q462.2,805.3 478.0,804.8 L478.0,804.8 L486.0,803.1 L494.0,801.6 L502.0,800.4 L510.0,799.2 L517.9,798.2 L525.9,797.2 L533.9,796.3 L541.9,795.5 L549.9,794.7 L557.9,793.9 L565.9,793.2 L573.9,792.5 L581.9,791.9 L589.9,791.2 L597.8,790.6 L605.8,790.0 L613.8,789.5 L621.8,788.9 L629.8,788.4 L637.8,787.9 L645.8,787.4 L653.8,787.0 L661.8,786.5 L669.8,786.1 L677.7,785.6 L685.7,785.2 L693.7,784.8 L701.7,784.4 L709.7,784.0 L717.7,783.6 L725.7,783.3 L733.7,782.9 L741.7,782.6 L749.7,782.2 L757.6,781.9 L765.6,781.6 L773.6,781.3 L781.6,781.0 L789.6,780.7 L797.6,780.4 L805.6,780.1 L813.6,779.8 L821.6,779.6 L829.6,779.3 L837.5,779.1 L845.5,778.8 L853.5,778.6 L861.5,778.3 L869.5,778.1 L877.5,777.9 L885.5,777.7 L893.5,777.5 L901.5,777.3 L909.4,777.1 L917.4,776.9 L925.4,776.7 L933.4,776.5 L941.4,776.3 L949.4,776.2 L957.4,776.0 L965.4,775.8 L973.4,775.7 L981.4,775.5 L989.3,775.4 L997.3,775.2 L1005.3,775.1 L1013.3,775.0 L1021.3,774.8 L1029.3,774.7 L1037.3,774.6 L1045.3,774.5 L1053.3,774.4 L1061.3,774.3 L1069.2,774.2 L1077.2,774.1 L1085.2,774.0 L1093.2,773.9 L1101.2,773.8 L1109.2,773.7 L1117.2,773.7 L1125.2,773.6 L1133.2,773.5 L1141.2,773.5 L1149.1,773.4 L1157.1,773.3 L1165.1,773.3 L1173.1,773.2 L1181.1,773.2 L1189.1,773.2 L1197.1,773.1 L1205.1,773.1 L1213.1,773.1 L1221.1,773.0 L1229.0,773.0 L1237.0,773.0 L1245.0,773.0 L1253.0,773.0 L1261.0,773.0 L1269.0,773.0 L1277.0,773.0 L1285.0,773.0 L1293.0,773.0 L1300.9,773.0 L1308.9,773.1 L1316.9,773.1 L1324.9,773.1 L1332.9,773.2 L1340.9,773.2 L1348.9,773.2 L1356.9,773.3 L1364.9,773.3 L1372.9,773.4 L1380.8,773.5 L1388.8,773.5 L1396.8,773.6 L1404.8,773.7 L1412.8,773.7 L1420.8,773.8 L1428.8,773.9 L1436.8,774.0 L1444.8,774.1 L1452.8,774.2 L1460.7,774.3 L1468.7,774.4 L1476.7,774.5 L1484.7,774.6 L1492.7,774.7 L1500.7,774.8 L1508.7,775.0 L1516.7,775.1 L1524.7,775.2 L1532.7,775.4 L1540.6,775.5 L1548.6,775.7 L1556.6,775.8 L1564.6,776.0 L1572.6,776.2 L1580.6,776.3 L1588.6,776.5 L1596.6,776.7 L1604.6,776.9 L1612.6,777.1 L1620.5,777.3 L1628.5,777.5 L1636.5,777.7 L1644.5,777.9 L1652.5,778.1 L1660.5,778.3 L1668.5,778.6 L1676.5,778.8 L1684.5,779.1 L1692.4,779.3 L1700.4,779.6 L1708.4,779.8 L1716.4,780.1 L1724.4,780.4 L1732.4,780.7 L1740.4,781.0 L1748.4,781.3 L1756.4,781.6 L1764.4,781.9 L1772.3,782.2 L1780.3,782.6 L1788.3,782.9 L1796.3,783.3 L1804.3,783.6 L1812.3,784.0 L1820.3,784.4 L1828.3,784.8 L1836.3,785.2 L1844.3,785.6 L1852.2,786.1 L1860.2,786.5 L1868.2,787.0 L1876.2,787.4 L1884.2,787.9 L1892.2,788.4 L1900.2,788.9 L1908.2,789.5 L1916.2,790.0 L1924.2,790.6 L1932.1,791.2 L1940.1,791.9 L1948.1,792.5 L1956.1,793.2 L1964.1,793.9 L1972.1,794.7 L1980.1,795.5 L1988.1,796.3 L1996.1,797.2 L2004.1,798.2 L2012.0,799.2 L2020.0,800.4 L2028.0,801.6 L2036.0,803.1 L2044.0,804.8 Q2059.9,805.3 2060.4,832 L2060.4,893 Q2059.9,917.9 2044.0,918.4 L2044.0,918.4 L2036.0,919.6 L2028.0,920.5 L2020.0,921.4 L2012.0,922.1 L2004.1,922.8 L1996.1,923.5 L1988.1,924.1 L1980.1,924.6 L1972.1,925.1 L1964.1,925.6 L1956.1,926.1 L1948.1,926.6 L1940.1,927.0 L1932.1,927.4 L1924.2,927.8 L1916.2,928.2 L1908.2,928.6 L1900.2,928.9 L1892.2,929.3 L1884.2,929.6 L1876.2,929.9 L1868.2,930.3 L1860.2,930.6 L1852.2,930.9 L1844.3,931.1 L1836.3,931.4 L1828.3,931.7 L1820.3,931.9 L1812.3,932.2 L1804.3,932.5 L1796.3,932.7 L1788.3,932.9 L1780.3,933.2 L1772.3,933.4 L1764.4,933.6 L1756.4,933.8 L1748.4,934.0 L1740.4,934.2 L1732.4,934.4 L1724.4,934.6 L1716.4,934.8 L1708.4,935.0 L1700.4,935.1 L1692.4,935.3 L1684.5,935.5 L1676.5,935.6 L1668.5,935.8 L1660.5,936.0 L1652.5,936.1 L1644.5,936.3 L1636.5,936.4 L1628.5,936.5 L1620.5,936.7 L1612.6,936.8 L1604.6,936.9 L1596.6,937.1 L1588.6,937.2 L1580.6,937.3 L1572.6,937.4 L1564.6,937.5 L1556.6,937.6 L1548.6,937.7 L1540.6,937.8 L1532.7,937.9 L1524.7,938.0 L1516.7,938.1 L1508.7,938.2 L1500.7,938.3 L1492.7,938.4 L1484.7,938.4 L1476.7,938.5 L1468.7,938.6 L1460.7,938.7 L1452.8,938.7 L1444.8,938.8 L1436.8,938.9 L1428.8,938.9 L1420.8,939.0 L1412.8,939.0 L1404.8,939.1 L1396.8,939.1 L1388.8,939.2 L1380.8,939.2 L1372.9,939.2 L1364.9,939.3 L1356.9,939.3 L1348.9,939.3 L1340.9,939.4 L1332.9,939.4 L1324.9,939.4 L1316.9,939.4 L1308.9,939.5 L1300.9,939.5 L1293.0,939.5 L1285.0,939.5 L1277.0,939.5 L1269.0,939.5 L1261.0,939.5 L1253.0,939.5 L1245.0,939.5 L1237.0,939.5 L1229.0,939.5 L1221.1,939.5 L1213.1,939.5 L1205.1,939.4 L1197.1,939.4 L1189.1,939.4 L1181.1,939.4 L1173.1,939.3 L1165.1,939.3 L1157.1,939.3 L1149.1,939.2 L1141.2,939.2 L1133.2,939.2 L1125.2,939.1 L1117.2,939.1 L1109.2,939.0 L1101.2,939.0 L1093.2,938.9 L1085.2,938.9 L1077.2,938.8 L1069.2,938.7 L1061.3,938.7 L1053.3,938.6 L1045.3,938.5 L1037.3,938.4 L1029.3,938.4 L1021.3,938.3 L1013.3,938.2 L1005.3,938.1 L997.3,938.0 L989.3,937.9 L981.4,937.8 L973.4,937.7 L965.4,937.6 L957.4,937.5 L949.4,937.4 L941.4,937.3 L933.4,937.2 L925.4,937.1 L917.4,936.9 L909.4,936.8 L901.5,936.7 L893.5,936.5 L885.5,936.4 L877.5,936.3 L869.5,936.1 L861.5,936.0 L853.5,935.8 L845.5,935.6 L837.5,935.5 L829.6,935.3 L821.6,935.1 L813.6,935.0 L805.6,934.8 L797.6,934.6 L789.6,934.4 L781.6,934.2 L773.6,934.0 L765.6,933.8 L757.6,933.6 L749.7,933.4 L741.7,933.2 L733.7,932.9 L725.7,932.7 L717.7,932.5 L709.7,932.2 L701.7,931.9 L693.7,931.7 L685.7,931.4 L677.7,931.1 L669.8,930.9 L661.8,930.6 L653.8,930.3 L645.8,929.9 L637.8,929.6 L629.8,929.3 L621.8,928.9 L613.8,928.6 L605.8,928.2 L597.8,927.8 L589.9,927.4 L581.9,927.0 L573.9,926.6 L565.9,926.1 L557.9,925.6 L549.9,925.1 L541.9,924.6 L533.9,924.1 L525.9,923.5 L517.9,922.8 L510.0,922.1 L502.0,921.4 L494.0,920.5 L486.0,919.6 L478.0,918.4 Q462.2,917.9 461.7,893 Z" fill="url(#tealband)" stroke="#143f46" stroke-width="2"/>
<path d="M461.7,832 Q462.2,805.3 478.0,804.8 L478.0,804.8 L486.0,803.1 L494.0,801.6 L502.0,800.4 L510.0,799.2 L517.9,798.2 L525.9,797.2 L533.9,796.3 L541.9,795.5 L549.9,794.7 L557.9,793.9 L565.9,793.2 L573.9,792.5 L581.9,791.9 L589.9,791.2 L597.8,790.6 L605.8,790.0 L613.8,789.5 L621.8,788.9 L629.8,788.4 L637.8,787.9 L645.8,787.4 L653.8,787.0 L661.8,786.5 L669.8,786.1 L677.7,785.6 L685.7,785.2 L693.7,784.8 L701.7,784.4 L709.7,784.0 L717.7,783.6 L725.7,783.3 L733.7,782.9 L741.7,782.6 L749.7,782.2 L757.6,781.9 L765.6,781.6 L773.6,781.3 L781.6,781.0 L789.6,780.7 L797.6,780.4 L805.6,780.1 L813.6,779.8 L821.6,779.6 L829.6,779.3 L837.5,779.1 L845.5,778.8 L853.5,778.6 L861.5,778.3 L869.5,778.1 L877.5,777.9 L885.5,777.7 L893.5,777.5 L901.5,777.3 L909.4,777.1 L917.4,776.9 L925.4,776.7 L933.4,776.5 L941.4,776.3 L949.4,776.2 L957.4,776.0 L965.4,775.8 L973.4,775.7 L981.4,775.5 L989.3,775.4 L997.3,775.2 L1005.3,775.1 L1013.3,775.0 L1021.3,774.8 L1029.3,774.7 L1037.3,774.6 L1045.3,774.5 L1053.3,774.4 L1061.3,774.3 L1069.2,774.2 L1077.2,774.1 L1085.2,774.0 L1093.2,773.9 L1101.2,773.8 L1109.2,773.7 L1117.2,773.7 L1125.2,773.6 L1133.2,773.5 L1141.2,773.5 L1149.1,773.4 L1157.1,773.3 L1165.1,773.3 L1173.1,773.2 L1181.1,773.2 L1189.1,773.2 L1197.1,773.1 L1205.1,773.1 L1213.1,773.1 L1221.1,773.0 L1229.0,773.0 L1237.0,773.0 L1245.0,773.0 L1253.0,773.0 L1261.0,773.0 L1269.0,773.0 L1277.0,773.0 L1285.0,773.0 L1293.0,773.0 L1300.9,773.0 L1308.9,773.1 L1316.9,773.1 L1324.9,773.1 L1332.9,773.2 L1340.9,773.2 L1348.9,773.2 L1356.9,773.3 L1364.9,773.3 L1372.9,773.4 L1380.8,773.5 L1388.8,773.5 L1396.8,773.6 L1404.8,773.7 L1412.8,773.7 L1420.8,773.8 L1428.8,773.9 L1436.8,774.0 L1444.8,774.1 L1452.8,774.2 L1460.7,774.3 L1468.7,774.4 L1476.7,774.5 L1484.7,774.6 L1492.7,774.7 L1500.7,774.8 L1508.7,775.0 L1516.7,775.1 L1524.7,775.2 L1532.7,775.4 L1540.6,775.5 L1548.6,775.7 L1556.6,775.8 L1564.6,776.0 L1572.6,776.2 L1580.6,776.3 L1588.6,776.5 L1596.6,776.7 L1604.6,776.9 L1612.6,777.1 L1620.5,777.3 L1628.5,777.5 L1636.5,777.7 L1644.5,777.9 L1652.5,778.1 L1660.5,778.3 L1668.5,778.6 L1676.5,778.8 L1684.5,779.1 L1692.4,779.3 L1700.4,779.6 L1708.4,779.8 L1716.4,780.1 L1724.4,780.4 L1732.4,780.7 L1740.4,781.0 L1748.4,781.3 L1756.4,781.6 L1764.4,781.9 L1772.3,782.2 L1780.3,782.6 L1788.3,782.9 L1796.3,783.3 L1804.3,783.6 L1812.3,784.0 L1820.3,784.4 L1828.3,784.8 L1836.3,785.2 L1844.3,785.6 L1852.2,786.1 L1860.2,786.5 L1868.2,787.0 L1876.2,787.4 L1884.2,787.9 L1892.2,788.4 L1900.2,788.9 L1908.2,789.5 L1916.2,790.0 L1924.2,790.6 L1932.1,791.2 L1940.1,791.9 L1948.1,792.5 L1956.1,793.2 L1964.1,793.9 L1972.1,794.7 L1980.1,795.5 L1988.1,796.3 L1996.1,797.2 L2004.1,798.2 L2012.0,799.2 L2020.0,800.4 L2028.0,801.6 L2036.0,803.1 L2044.0,804.8 Q2059.9,805.3 2060.4,832 L2060.4,893 Q2059.9,917.9 2044.0,918.4 L2044.0,918.4 L2036.0,919.6 L2028.0,920.5 L2020.0,921.4 L2012.0,922.1 L2004.1,922.8 L1996.1,923.5 L1988.1,924.1 L1980.1,924.6 L1972.1,925.1 L1964.1,925.6 L1956.1,926.1 L1948.1,926.6 L1940.1,927.0 L1932.1,927.4 L1924.2,927.8 L1916.2,928.2 L1908.2,928.6 L1900.2,928.9 L1892.2,929.3 L1884.2,929.6 L1876.2,929.9 L1868.2,930.3 L1860.2,930.6 L1852.2,930.9 L1844.3,931.1 L1836.3,931.4 L1828.3,931.7 L1820.3,931.9 L1812.3,932.2 L1804.3,932.5 L1796.3,932.7 L1788.3,932.9 L1780.3,933.2 L1772.3,933.4 L1764.4,933.6 L1756.4,933.8 L1748.4,934.0 L1740.4,934.2 L1732.4,934.4 L1724.4,934.6 L1716.4,934.8 L1708.4,935.0 L1700.4,935.1 L1692.4,935.3 L1684.5,935.5 L1676.5,935.6 L1668.5,935.8 L1660.5,936.0 L1652.5,936.1 L1644.5,936.3 L1636.5,936.4 L1628.5,936.5 L1620.5,936.7 L1612.6,936.8 L1604.6,936.9 L1596.6,937.1 L1588.6,937.2 L1580.6,937.3 L1572.6,937.4 L1564.6,937.5 L1556.6,937.6 L1548.6,937.7 L1540.6,937.8 L1532.7,937.9 L1524.7,938.0 L1516.7,938.1 L1508.7,938.2 L1500.7,938.3 L1492.7,938.4 L1484.7,938.4 L1476.7,938.5 L1468.7,938.6 L1460.7,938.7 L1452.8,938.7 L1444.8,938.8 L1436.8,938.9 L1428.8,938.9 L1420.8,939.0 L1412.8,939.0 L1404.8,939.1 L1396.8,939.1 L1388.8,939.2 L1380.8,939.2 L1372.9,939.2 L1364.9,939.3 L1356.9,939.3 L1348.9,939.3 L1340.9,939.4 L1332.9,939.4 L1324.9,939.4 L1316.9,939.4 L1308.9,939.5 L1300.9,939.5 L1293.0,939.5 L1285.0,939.5 L1277.0,939.5 L1269.0,939.5 L1261.0,939.5 L1253.0,939.5 L1245.0,939.5 L1237.0,939.5 L1229.0,939.5 L1221.1,939.5 L1213.1,939.5 L1205.1,939.4 L1197.1,939.4 L1189.1,939.4 L1181.1,939.4 L1173.1,939.3 L1165.1,939.3 L1157.1,939.3 L1149.1,939.2 L1141.2,939.2 L1133.2,939.2 L1125.2,939.1 L1117.2,939.1 L1109.2,939.0 L1101.2,939.0 L1093.2,938.9 L1085.2,938.9 L1077.2,938.8 L1069.2,938.7 L1061.3,938.7 L1053.3,938.6 L1045.3,938.5 L1037.3,938.4 L1029.3,938.4 L1021.3,938.3 L1013.3,938.2 L1005.3,938.1 L997.3,938.0 L989.3,937.9 L981.4,937.8 L973.4,937.7 L965.4,937.6 L957.4,937.5 L949.4,937.4 L941.4,937.3 L933.4,937.2 L925.4,937.1 L917.4,936.9 L909.4,936.8 L901.5,936.7 L893.5,936.5 L885.5,936.4 L877.5,936.3 L869.5,936.1 L861.5,936.0 L853.5,935.8 L845.5,935.6 L837.5,935.5 L829.6,935.3 L821.6,935.1 L813.6,935.0 L805.6,934.8 L797.6,934.6 L789.6,934.4 L781.6,934.2 L773.6,934.0 L765.6,933.8 L757.6,933.6 L749.7,933.4 L741.7,933.2 L733.7,932.9 L725.7,932.7 L717.7,932.5 L709.7,932.2 L701.7,931.9 L693.7,931.7 L685.7,931.4 L677.7,931.1 L669.8,930.9 L661.8,930.6 L653.8,930.3 L645.8,929.9 L637.8,929.6 L629.8,929.3 L621.8,928.9 L613.8,928.6 L605.8,928.2 L597.8,927.8 L589.9,927.4 L581.9,927.0 L573.9,926.6 L565.9,926.1 L557.9,925.6 L549.9,925.1 L541.9,924.6 L533.9,924.1 L525.9,923.5 L517.9,922.8 L510.0,922.1 L502.0,921.4 L494.0,920.5 L486.0,919.6 L478.0,918.4 Q462.2,917.9 461.7,893 Z" fill="url(#tealshade)"/>
</g>
<g filter="url(#tshadow)"><text x="673.3" y="732" font-family="Liberation Sans" font-weight="normal" font-size="63" textLength="364.7" lengthAdjust="spacingAndGlyphs" fill="#7a5a22" stroke="#7a5a22" stroke-width="6.20" stroke-linejoin="round">REFLECTIVE</text><text x="673.3" y="732" font-family="Liberation Sans" font-weight="normal" font-size="63" textLength="364.7" lengthAdjust="spacingAndGlyphs" fill="#f7efdc" stroke="#f7efdc" stroke-width="3.60" stroke-linejoin="round">REFLECTIVE</text></g><g filter="url(#tshadow)"><text x="1058" y="732" font-family="Liberation Sans" font-weight="normal" font-size="63" textLength="198" lengthAdjust="spacingAndGlyphs" fill="#7a5a22" stroke="#7a5a22" stroke-width="6.20" stroke-linejoin="round">INFRA</text><text x="1058" y="732" font-family="Liberation Sans" font-weight="normal" font-size="63" textLength="198" lengthAdjust="spacingAndGlyphs" fill="#f7efdc" stroke="#f7efdc" stroke-width="3.60" stroke-linejoin="round">INFRA</text></g><g filter="url(#tshadow)"><text x="1256" y="732" font-family="Liberation Sans" font-weight="normal" font-size="63" textLength="370" lengthAdjust="spacingAndGlyphs" fill="#7a5a22" stroke="#7a5a22" stroke-width="6.20" stroke-linejoin="round">STRUCTURE</text><text x="1256" y="732" font-family="Liberation Sans" font-weight="normal" font-size="63" textLength="370" lengthAdjust="spacingAndGlyphs" fill="#f7efdc" stroke="#f7efdc" stroke-width="3.60" stroke-linejoin="round">STRUCTURE</text></g><g filter="url(#tshadow)"><text x="1642.3" y="732" font-family="Liberation Sans" font-weight="normal" font-size="63" textLength="202.5" lengthAdjust="spacingAndGlyphs" fill="#7a5a22" stroke="#7a5a22" stroke-width="6.20" stroke-linejoin="round">LAYER</text><text x="1642.3" y="732" font-family="Liberation Sans" font-weight="normal" font-size="63" textLength="202.5" lengthAdjust="spacingAndGlyphs" fill="#f7efdc" stroke="#f7efdc" stroke-width="3.60" stroke-linejoin="round">LAYER</text></g>

<!-- band items -->
<g filter="url(#tshadow)">
  <rect x="599" y="819" width="24" height="72" fill="url(#cream)" stroke="#1f3f44" stroke-width="1.5"/>
  <rect x="631" y="819" width="24" height="72" fill="url(#cream)" stroke="#1f3f44" stroke-width="1.5"/>
  <path d="M957.5,815.5 Q980,822 1003.8,826 L1003.8,866 Q1000,890 959.6,906 Q919,890 917.5,868 L917.5,826 Q935,822 957.5,815.5 Z" fill="url(#cream)" stroke="#1f3f44" stroke-width="2"/>
  <path d="M1323,885.4 A51.8,36 0 1 1 1344.6,889.9 L1325.7,908.2 Z" fill="url(#cream)" stroke="#1f3f44" stroke-width="2"/>
  <path d="M1670.7,811.5 L1698.7,846 L1677,846 L1677,877 L1646,877 L1646,906 L1601.5,906 L1601.5,888 L1631,888 L1631,861 L1662,861 L1662,846 L1644.5,846 Z" fill="url(#cream)" stroke="#1f3f44" stroke-width="1.5"/>
</g>
<path d="M941,859 L955.5,873.5 L982,848" fill="none" stroke="#163c42" stroke-width="9" stroke-linecap="square"/>
<path d="M941,859 L955.5,873.5 L982,848" fill="none" stroke="#266a70" stroke-width="6" stroke-linecap="square"/>
<g fill="#2f6e70" stroke="#13323a" stroke-width="2"><circle cx="1328.2" cy="857.6" r="4.6"/><circle cx="1349.2" cy="857.6" r="4.6"/><circle cx="1371" cy="857.6" r="4.6"/></g>
<g stroke="#a9d3d8" stroke-width="2.5"><line x1="850" y1="821" x2="850" y2="905"/><line x1="1265.5" y1="820" x2="1265.5" y2="905"/></g>
<g filter="url(#tshadow)"><text x="679" y="865" font-family="Liberation Sans" font-weight="normal" font-size="38" textLength="115" lengthAdjust="spacingAndGlyphs" fill="#12343a" stroke="#12343a" stroke-width="4.80" stroke-linejoin="round">Pacing</text><text x="679" y="865" font-family="Liberation Sans" font-weight="normal" font-size="38" textLength="115" lengthAdjust="spacingAndGlyphs" fill="#eef9fb" stroke="#eef9fb" stroke-width="1.40" stroke-linejoin="round">Pacing</text></g><g filter="url(#tshadow)"><text x="1026.5" y="868" font-family="Liberation Sans" font-weight="normal" font-size="38" textLength="204" lengthAdjust="spacingAndGlyphs" fill="#12343a" stroke="#12343a" stroke-width="4.80" stroke-linejoin="round">Governance</text><text x="1026.5" y="868" font-family="Liberation Sans" font-weight="normal" font-size="38" textLength="204" lengthAdjust="spacingAndGlyphs" fill="#eef9fb" stroke="#eef9fb" stroke-width="1.40" stroke-linejoin="round">Governance</text></g><g filter="url(#tshadow)"><text x="1422" y="868" font-family="Liberation Sans" font-weight="normal" font-size="38" textLength="147" lengthAdjust="spacingAndGlyphs" fill="#12343a" stroke="#12343a" stroke-width="4.80" stroke-linejoin="round">Prompts</text><text x="1422" y="868" font-family="Liberation Sans" font-weight="normal" font-size="38" textLength="147" lengthAdjust="spacingAndGlyphs" fill="#eef9fb" stroke="#eef9fb" stroke-width="1.40" stroke-linejoin="round">Prompts</text></g><g filter="url(#tshadow)"><text x="1721" y="864" font-family="Liberation Sans" font-weight="normal" font-size="38" textLength="278" lengthAdjust="spacingAndGlyphs" fill="#12343a" stroke="#12343a" stroke-width="4.80" stroke-linejoin="round">Escalation Rules</text><text x="1721" y="864" font-family="Liberation Sans" font-weight="normal" font-size="38" textLength="278" lengthAdjust="spacingAndGlyphs" fill="#eef9fb" stroke="#eef9fb" stroke-width="1.40" stroke-linejoin="round">Escalation Rules</text></g>

<!-- arrow 2 -->
<path d="M1193,982 L1228,982 L1228,1045 L1260,1045 L1210.5,1100 L1162,1045 L1193,1045 Z" fill="#e6b44b" stroke="#c9a05a" stroke-width="1.5" filter="url(#glow)"/>

<!-- navy box -->
<rect x="458" y="1142" width="1607" height="123" rx="11" fill="url(#navy)" stroke="#0a1220" stroke-width="2.5" filter="url(#soft)"/>
<rect x="461" y="1145" width="1601" height="117" rx="9" fill="none" stroke="#3e4f69" stroke-width="1" opacity="0.7"/>
<g stroke="#8d9aab" stroke-width="3"><line x1="1033" y1="1170" x2="1033" y2="1231"/><line x1="1540" y1="1170" x2="1540" y2="1231"/></g>
<g><text x="537.5" y="1215" font-family="Liberation Sans" font-weight="normal" font-size="44" textLength="172.7" lengthAdjust="spacingAndGlyphs" fill="#05090f" stroke="#05090f" stroke-width="4.90" stroke-linejoin="round">HUMAN</text><text x="537.5" y="1215" font-family="Liberation Sans" font-weight="normal" font-size="44" textLength="172.7" lengthAdjust="spacingAndGlyphs" fill="#eef1f5" stroke="#eef1f5" stroke-width="0.90" stroke-linejoin="round">HUMAN</text></g><g><text x="720" y="1215" font-family="Liberation Sans" font-weight="normal" font-size="44" textLength="272" lengthAdjust="spacingAndGlyphs" fill="#05090f" stroke="#05090f" stroke-width="4.90" stroke-linejoin="round">JUDGEMENT</text><text x="720" y="1215" font-family="Liberation Sans" font-weight="normal" font-size="44" textLength="272" lengthAdjust="spacingAndGlyphs" fill="#eef1f5" stroke="#eef1f5" stroke-width="0.90" stroke-linejoin="round">JUDGEMENT</text></g><g><text x="1079.5" y="1217" font-family="Liberation Sans" font-weight="normal" font-size="44" textLength="416" lengthAdjust="spacingAndGlyphs" fill="#05090f" stroke="#05090f" stroke-width="4.90" stroke-linejoin="round">DECISION QUALITY</text><text x="1079.5" y="1217" font-family="Liberation Sans" font-weight="normal" font-size="44" textLength="416" lengthAdjust="spacingAndGlyphs" fill="#eef1f5" stroke="#eef1f5" stroke-width="0.90" stroke-linejoin="round">DECISION QUALITY</text></g><g><text x="1600.5" y="1211" font-family="Liberation Sans" font-weight="normal" font-size="42" textLength="375" lengthAdjust="spacingAndGlyphs" fill="#05090f" stroke="#05090f" stroke-width="4.90" stroke-linejoin="round">ORGANSATIONAL</text><text x="1600.5" y="1211" font-family="Liberation Sans" font-weight="normal" font-size="42" textLength="375" lengthAdjust="spacingAndGlyphs" fill="#eef1f5" stroke="#eef1f5" stroke-width="0.90" stroke-linejoin="round">ORGANSATIONAL</text></g><g><text x="1673" y="1253" font-family="Liberation Sans" font-weight="normal" font-size="42" textLength="244" lengthAdjust="spacingAndGlyphs" fill="#05090f" stroke="#05090f" stroke-width="4.90" stroke-linejoin="round">OVERSIGHT</text><text x="1673" y="1253" font-family="Liberation Sans" font-weight="normal" font-size="42" textLength="244" lengthAdjust="spacingAndGlyphs" fill="#eef1f5" stroke="#eef1f5" stroke-width="0.90" stroke-linejoin="round">OVERSIGHT</text></g>

<!-- human judgement icon -->
<g>
  <path d="M618,1453 L618,1428 Q620,1414 640,1408 L672,1396 L679,1391 L712,1425 Q722,1432 730,1445 L740,1453 Z" fill="#3f5d61" stroke="#1a2a3a" stroke-width="2"/>
  <path d="M790,1453 L803,1440 L804,1453 Z" fill="#2a3c4e"/>
  <path d="M703,1302 Q735,1302 737,1340 L741,1352 Q741,1360 735,1366 Q716,1385 712,1390 Q705,1394 697,1390 L670,1362 Q664,1355 668,1350 L670,1346 L670,1330 Q672,1302 703,1302 Z" fill="#24445e" stroke="#122233" stroke-width="2"/>
  <circle cx="762" cy="1408" r="42" fill="#f4f7f8"/>
  <circle cx="762" cy="1408" r="38" fill="#3e8160" stroke="#2a5d48" stroke-width="1.5"/>
  <path d="M737,1409 L754,1429 L787,1386" fill="none" stroke="#f2f5f4" stroke-width="10" stroke-linejoin="miter"/>
</g>

<!-- target icon -->
<g>
  <path d="M1153,1424 Q1150,1440 1141.5,1453 Q1160,1446 1180,1444 Q1165,1436 1153,1424 Z" fill="#243d58" stroke="#101c2a" stroke-width="1.5"/>
  <path d="M1255.5,1424 Q1259,1440 1270.5,1453 Q1250,1446 1230,1444 Q1245,1436 1255.5,1424 Z" fill="#243d58" stroke="#101c2a" stroke-width="1.5"/>
  <path d="M1262.3,1359.0 A62.0,58.5 0 1 1 1236.9,1329.4" fill="none" stroke="#243d58" stroke-width="14"/>
  <path d="M1239.3,1370.5 A36.0,34.8 0 1 1 1219.7,1348.0" fill="none" stroke="#6d7a83" stroke-width="11.5"/>
  <circle cx="1204" cy="1378.5" r="16" fill="#2a4360"/>
  <path d="M1204,1378.5 L1252,1341" stroke="#243d58" stroke-width="7"/>
  <path d="M1244.6,1324.4 L1270.4,1301 L1274,1318 L1292.2,1324 L1265.8,1349.7 L1247.4,1346.3 Z" fill="#243d58"/>
</g>

<!-- two persons icon -->
<g fill="#24445e" stroke="#101c2a" stroke-width="2">
  <path d="M1628,1451 L1628,1432 Q1630,1420 1645,1414 L1684,1394 L1700,1409 Q1710,1414 1720,1410 L1734,1400 L1738,1408 Q1712,1420 1702,1435 L1695,1451 Z"/>
  <path d="M1705,1312 Q1735,1312 1737,1345 L1738,1354 Q1738,1362 1730,1370 L1712,1388 Q1705,1393 1698,1388 L1678,1368 Q1672,1362 1673,1355 L1676,1352 L1677,1340 Q1678,1312 1705,1312 Z"/>
  <path d="M1708,1455 L1708,1430 Q1712,1420 1730,1416 L1765,1397 L1790,1422 L1816,1398 L1860,1418 Q1876,1424 1880,1440 L1881,1455 Z" stroke="#fafbfc" stroke-width="12"/>
  <path d="M1708,1455 L1708,1430 Q1712,1420 1730,1416 L1765,1397 L1790,1422 L1816,1398 L1860,1418 Q1876,1424 1880,1440 L1881,1455 Z"/>
  <path d="M1790,1304 Q1825,1304 1827,1345 L1828,1355 Q1830,1362 1822,1370 L1800,1392 Q1791,1398 1782,1392 L1760,1370 Q1752,1362 1754,1355 L1756,1352 L1756,1340 Q1758,1304 1790,1304 Z"/>
</g>

<!-- bottom labels -->
<g font-family="Liberation Sans" font-size="40" fill="#111a29" stroke="#fafbfc" stroke-width="0.9">
  <text x="532.5" y="1523.5" textLength="389" lengthAdjust="spacingAndGlyphs">Human Judgement</text>
  <text x="1047.5" y="1524" textLength="333" lengthAdjust="spacingAndGlyphs">Decision Quality</text>
  <text x="1500" y="1524" textLength="514" lengthAdjust="spacingAndGlyphs">Organisational Oversight</text>
</g>
</svg>
</body></html>
